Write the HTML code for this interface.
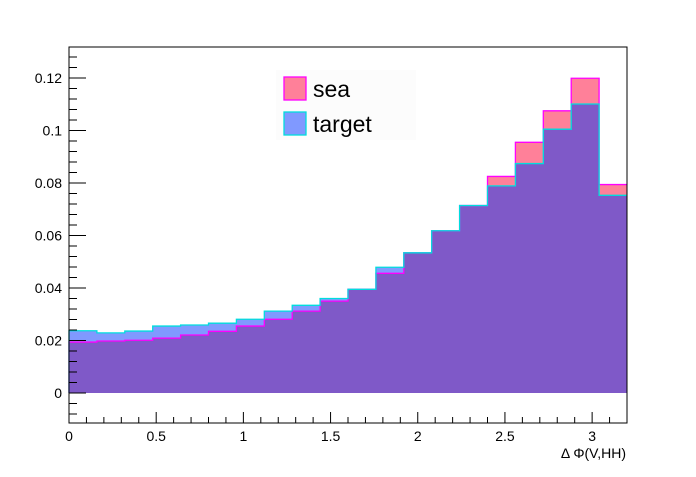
<!DOCTYPE html>
<html><head><meta charset="utf-8"><style>
body{margin:0;background:#fff}
svg text{font-family:"Liberation Sans",sans-serif}
</style></head><body>
<svg id="c" width="696" height="472" xmlns="http://www.w3.org/2000/svg"></svg>
<script>
const binLow = 0, binHigh = 3.2;
const seaValues = [0.0194,0.0198,0.0201,0.0209,0.0221,0.0235,0.0255,0.0281,0.0312,0.0350,0.0395,0.0456,0.0534,0.0618,0.0714,0.0825,0.0955,0.1075,0.1199,0.0794];
const targetValues = [0.0237,0.0229,0.0236,0.0255,0.0259,0.0266,0.0281,0.0312,0.0334,0.0360,0.0395,0.0479,0.0534,0.0618,0.0714,0.0789,0.0874,0.1005,0.1101,0.0753];
const yTicks = [0,0.02,0.04,0.06,0.08,0.1,0.12];
const yTickLabels = ["0","0.02","0.04","0.06","0.08","0.1","0.12"];
const xTicks = [0,0.5,1,1.5,2,2.5,3];
const xTickLabels = ["0","0.5","1","1.5","2","2.5","3"];

const L=69,R=627,T=47,B=423;
const yMin=-0.01143,yMax=0.13181;
const sx=v=>L+(v-binLow)/(binHigh-binLow)*(R-L);
const sy=v=>B-(v-yMin)/(yMax-yMin)*(B-T);
const svg=document.getElementById('c');
const NS='http://www.w3.org/2000/svg';
function mk(tag,attrs,parent){const e=document.createElementNS(NS,tag);for(const k in attrs)e.setAttribute(k,attrs[k]);(parent||svg).appendChild(e);return e;}
const n=seaValues.length, w=(binHigh-binLow)/n;
function areaPath(vals){let d='M'+sx(binLow)+','+sy(0);vals.forEach((v,i)=>{d+='L'+sx(binLow+i*w)+','+sy(v)+'L'+sx(binLow+(i+1)*w)+','+sy(v);});d+='L'+sx(binHigh)+','+sy(0)+'Z';return d;}
function linePath(vals){let d='M'+sx(binLow)+','+sy(0);vals.forEach((v,i)=>{d+='L'+sx(binLow+i*w)+','+sy(v)+'L'+sx(binLow+(i+1)*w)+','+sy(v);});return d;}
const g=mk('g',{});


let p=mk('path',{d:areaPath(seaValues),fill:'#ff8099'},g);


p=mk('path',{d:areaPath(targetValues),fill:'#8099ff'},g);


p=mk('path',{d:areaPath(seaValues.map((v,i)=>Math.min(v,targetValues[i]))),fill:'#7f59c8'},g);


p=mk('path',{d:linePath(seaValues),fill:'none',stroke:'#ff00ff','stroke-width':1.3},g);


p=mk('path',{d:linePath(targetValues),fill:'none',stroke:'#00dddd','stroke-width':1.3},g);


p=mk('rect',{x:L,y:T,width:R-L,height:B-T,fill:'none',stroke:'#000','stroke-width':1});


for(let v=-0.008;v<=0.1301;v+=0.004){const y=sy(v);const major=Math.abs(v/0.02-Math.round(v/0.02))<1e-6;const t=mk('line',{x1:L,x2:L+(major?17:8),y1:y,y2:y,stroke:'#000'});}
yTicks.forEach((v,i)=>{const t=mk('text',{x:L-7,y:sy(v)+5,'text-anchor':'end','font-size':14});t.textContent=yTickLabels[i];});
for(let k=0;k<=32;k++){const v=k*0.1;const x=sx(v);const major=k%5===0;const t=mk('line',{x1:x,x2:x,y1:B,y2:B-(major?11:6),stroke:'#000'});}
xTicks.forEach((v,i)=>{const t=mk('text',{x:sx(v),y:B+18,'text-anchor':'middle','font-size':14});t.textContent=xTickLabels[i];});
let t=mk('text',{x:626,y:458,'text-anchor':'end','font-size':14});t.textContent='Δ Φ(V,HH)';


const lg=mk('g',{});


mk('rect',{x:276,y:70,width:140,height:70,fill:'#fcfcfc'},lg);
let r=mk('rect',{x:284,y:77,width:22,height:23,fill:'#ff8099',stroke:'#ff00ff','stroke-width':1.3},lg);


t=mk('text',{x:313,y:97,'font-size':23},lg);t.textContent='sea';


r=mk('rect',{x:284,y:112,width:22,height:23,fill:'#8099ff',stroke:'#00dddd','stroke-width':1.3},lg);


t=mk('text',{x:313,y:132,'font-size':23},lg);t.textContent='target';


</script>
</body></html>
